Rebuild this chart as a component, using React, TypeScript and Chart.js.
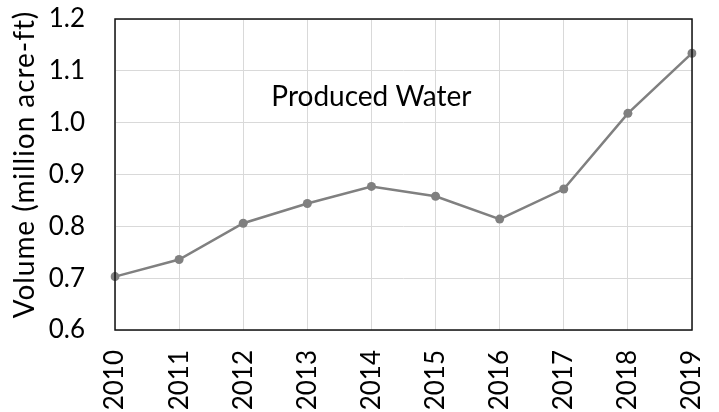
import React, { useEffect, useRef } from "react";
import { Chart, registerables } from "chart.js";

Chart.register(...registerables);

const years = ["2010", "2011", "2012", "2013", "2014", "2015", "2016", "2017", "2018", "2019"];
const producedWater = [0.703, 0.736, 0.806, 0.844, 0.877, 0.858, 0.814, 0.872, 1.018, 1.134];
const yTitle = "Volume (million acre-ft)";
const annotation = "Produced Water";
const FONT = "Lato";

export default function App() {
  const ref = useRef<HTMLCanvasElement | null>(null);
  useEffect(() => {
    document.body.style.margin = "0";
    const canvas = ref.current!;
    const textPlugin = {
      id: "texts",
      afterDraw(chart: any) {
        const { ctx, chartArea, scales } = chart;
        ctx.save();
        ctx.strokeStyle = "#111";
        ctx.lineWidth = 1.5;
        ctx.strokeRect(chartArea.left, chartArea.top, chartArea.right - chartArea.left, chartArea.bottom - chartArea.top);
        ctx.fillStyle = "#000";
        ctx.font = `28px ${FONT}`;
        ctx.textAlign = "center";
        ctx.textBaseline = "middle";
        ctx.fillText(annotation, scales.x.getPixelForValue(4), scales.y.getPixelForValue(1.05));
        ctx.font = `28px ${FONT}`;
        const w = ctx.measureText(yTitle).width;
        const ls = Math.max(0, (306 - w) / (yTitle.length - 1));
        (ctx as any).letterSpacing = `${ls}px`;
        ctx.translate(25, 165);
        ctx.rotate(-Math.PI / 2);
        ctx.fillText(yTitle, ls / 2, 0);
        ctx.restore();
      },
    };
    const zeroPad = (s: any) => {
      s.paddingTop = 0;
      s.paddingBottom = 0;
      s.paddingLeft = 0;
      s.paddingRight = 0;
    };
    const chart = new Chart(canvas, {
      type: "line",
      data: {
        labels: years,
        datasets: [
          {
            data: producedWater,
            borderColor: "#808080",
            backgroundColor: "#808080",
            borderWidth: 2.5,
            pointRadius: 4.5,
            pointBackgroundColor: "#808080",
            pointBorderWidth: 0,
            tension: 0,
          },
        ],
      },
      options: {
        responsive: false,
        animation: false,
        layout: { padding: { top: 19, right: 27, left: 0, bottom: 0 } },
        plugins: { legend: { display: false }, tooltip: { enabled: false } },
        scales: {
          x: {
            offset: false,
            grid: { color: "#d9d9d9", lineWidth: 1, drawTicks: false },
            border: { display: false },
            ticks: {
              color: "#000",
              font: { family: FONT, size: 26 },
              minRotation: 90,
              maxRotation: 90,
              padding: 20,
              autoSkip: false,
            },
            afterFit: (s: any) => {
              s.height = 82;
              zeroPad(s);
            },
          },
          y: {
            min: 0.6,
            max: 1.2,
            grid: { color: "#d9d9d9", lineWidth: 1, drawTicks: false },
            border: { display: false },
            ticks: {
              stepSize: 0.1,
              color: "#000",
              font: { family: FONT, size: 26 },
              padding: 30,
              callback: (v: any) => Number(v).toFixed(1),
            },
            afterFit: (s: any) => {
              s.width = 115;
              zeroPad(s);
            },
          },
        },
      },
      plugins: [textPlugin],
    });
    return () => chart.destroy();
  }, []);
  return (
    <div style={{ position: "absolute", left: 0, top: 0, width: 719, height: 412, background: "#fff" }}>
      <canvas ref={ref} width={719} height={412} style={{ display: "block" }} />
    </div>
  );
}
